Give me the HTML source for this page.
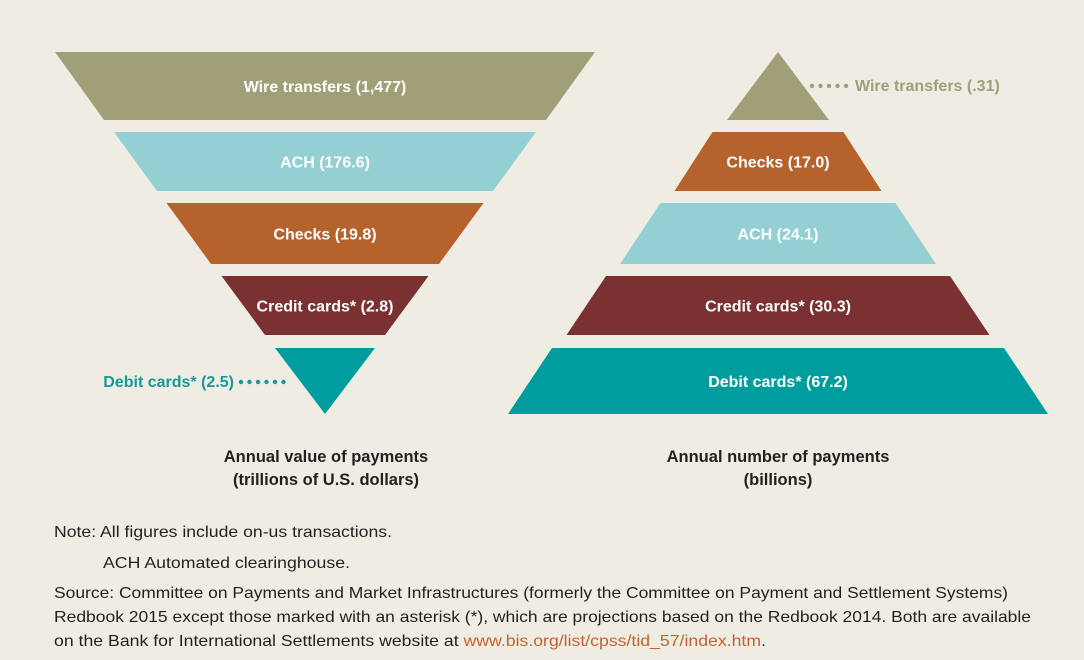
<!DOCTYPE html>
<html><head><meta charset="utf-8"><style>
html,body{margin:0;padding:0;background:#efede3;}
svg{display:block;}
text{font-family:"Liberation Sans Narrow","Liberation Sans",sans-serif;}
</style></head><body>
<svg id="chart" width="1084" height="660" viewBox="0 0 1084 660">
<rect width="1084" height="660" fill="#efede3"/>
<g id="left"></g>
<g id="right"></g>
<text x="326" y="462" text-anchor="middle" font-size="16.5" font-weight="bold" fill="#231f20">Annual value of payments</text>
<text x="326" y="485" text-anchor="middle" font-size="16.5" font-weight="bold" fill="#231f20">(trillions of U.S. dollars)</text>
<text x="778" y="462" text-anchor="middle" font-size="16.5" font-weight="bold" fill="#231f20">Annual number of payments</text>
<text x="778" y="485" text-anchor="middle" font-size="16.5" font-weight="bold" fill="#231f20">(billions)</text>
<g font-size="16" fill="#231f20">
<text x="54" y="537" textLength="338" lengthAdjust="spacingAndGlyphs">Note: All figures include on-us transactions.</text>
<text x="103" y="568" textLength="247" lengthAdjust="spacingAndGlyphs">ACH Automated clearinghouse.</text>
<text x="54" y="598" textLength="954" lengthAdjust="spacingAndGlyphs">Source: Committee on Payments and Market Infrastructures (formerly the Committee on Payment and Settlement Systems)</text>
<text x="54" y="622" textLength="977" lengthAdjust="spacingAndGlyphs">Redbook 2015 except those marked with an asterisk (*), which are projections based on the Redbook 2014. Both are available</text>
<text x="54" y="646" textLength="712" lengthAdjust="spacingAndGlyphs">on the Bank for International Settlements website at <tspan fill="#c4622d">www.bis.org/list/cpss/tid_57/index.htm</tspan>.</text>
</g>
</svg>
<script>
const leftLabels = ["Wire transfers", "ACH", "Checks", "Credit cards*", "Debit cards*"];
const leftValues = ["1,477", "176.6", "19.8", "2.8", "2.5"];
const leftColors = ["#a09f77", "#93cfd3", "#b5622c", "#7b3131", "#009d9e"];
const rightLabels = ["Wire transfers", "Checks", "ACH", "Credit cards*", "Debit cards*"];
const rightValues = [".31", "17.0", "24.1", "30.3", "67.2"];
const rightColors = ["#a09f77", "#b5622c", "#93cfd3", "#7b3131", "#009d9e"];

const NS = "http://www.w3.org/2000/svg";
const bandTop = [52, 132, 203, 276, 348];
const bandBot = [120, 191, 264, 335, 414];
const leftTopHalf = [270, 211, 158.5, 103.5, 50];
const leftBotHalf = [221, 168, 114, 60, 0];
const rightTopHalf = [0, 65.5, 117.5, 172, 226];
const rightBotHalf = [51, 103.5, 158, 211.5, 270];

function mk(tag, attrs, parent){const e=document.createElementNS(NS,tag);for(const k in attrs)e.setAttribute(k,attrs[k]);parent.appendChild(e);return e;}

const lg = document.getElementById('left');
leftLabels.forEach((lab,i)=>{
  const cx=325, t=bandTop[i], b=bandBot[i];
  const ht=leftTopHalf[i], hb=leftBotHalf[i];
  const p = mk('polygon',{points:`${cx-ht},${t} ${cx+ht},${t} ${cx+hb},${b} ${cx-hb},${b}`,fill:leftColors[i]},lg);
  
  
  const txt = lab + " (" + leftValues[i] + ")";
  if (i < 4) {
    const tx = mk('text',{x:cx,y:(t+b)/2+6,'text-anchor':'middle','font-size':16,'font-weight':'bold',fill:'#fff'},lg);
    tx.textContent = txt;
    
    
  } else {
    const y=(t+b)/2+6;
    const tx = mk('text',{x:234,y:y,'text-anchor':'end','font-size':16,'font-weight':'bold',fill:'#1a9797'},lg);
    tx.textContent = txt;
    
    
    for(let k=0;k<6;k++){const c=mk('circle',{cx:241+k*8.5,cy:y-5,r:2.2,fill:'#1a9797'},lg);
      
      }
  }
});

const rg = document.getElementById('right');
rightLabels.forEach((lab,i)=>{
  const cx=778, t=bandTop[i], b=bandBot[i];
  const ht=rightTopHalf[i], hb=rightBotHalf[i];
  const p = mk('polygon',{points:`${cx-ht},${t} ${cx+ht},${t} ${cx+hb},${b} ${cx-hb},${b}`,fill:rightColors[i]},rg);
  
  
  const txt = lab + " (" + rightValues[i] + ")";
  if (i > 0) {
    const tx = mk('text',{x:cx,y:(t+b)/2+6,'text-anchor':'middle','font-size':16,'font-weight':'bold',fill:'#fff'},rg);
    tx.textContent = txt;
    
    
  } else {
    const y=91;
    for(let k=0;k<5;k++){const c=mk('circle',{cx:812+k*8.5,cy:y-5,r:2.2,fill:'#a09f77'},rg);
      
      }
    const tx = mk('text',{x:855,y:y,'text-anchor':'start','font-size':16,'font-weight':'bold',fill:'#a09f77'},rg);
    tx.textContent = txt;
    
    
  }
});
</script>
</body></html>
